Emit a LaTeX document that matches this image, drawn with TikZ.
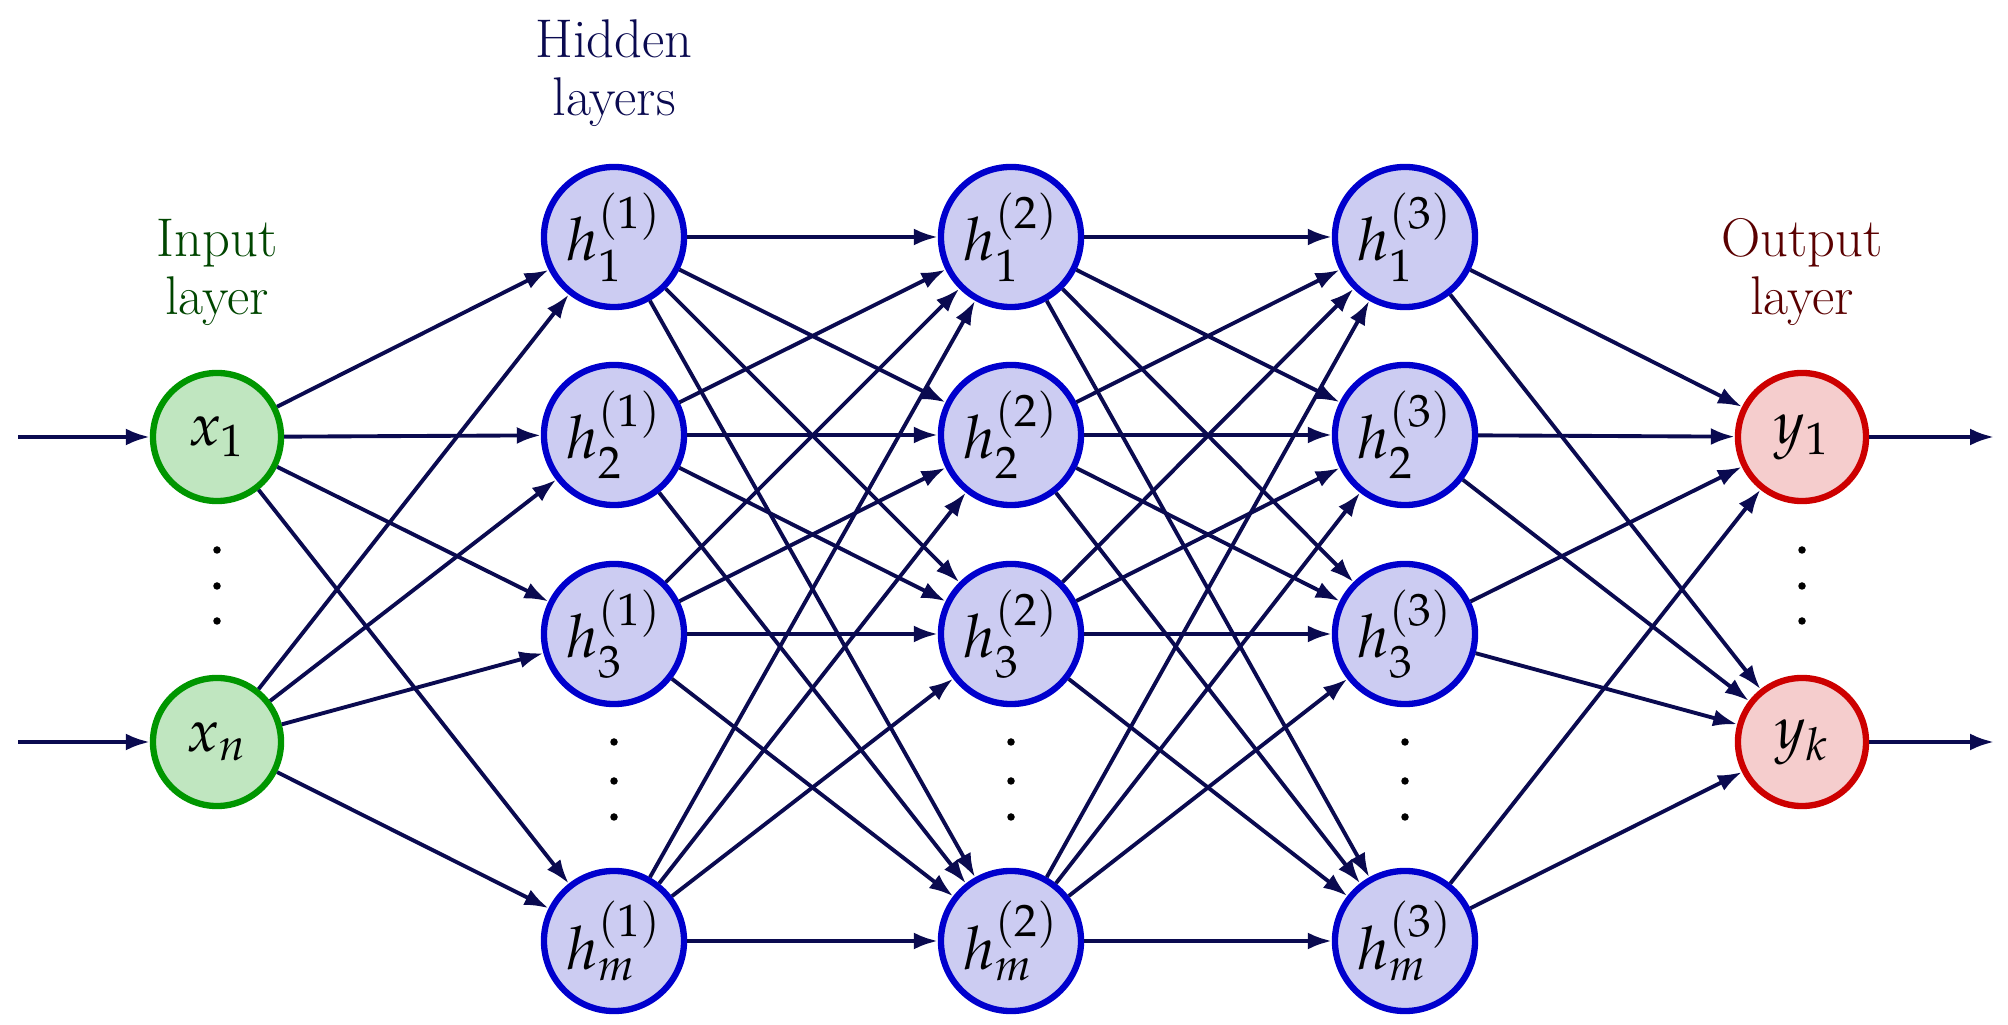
\documentclass[tikz,border=0pt]{standalone}
\usepackage{mathpazo}
\usetikzlibrary{arrows.meta}
\definecolor{arr}{RGB}{10,10,80}
\definecolor{ing}{RGB}{0,150,0}\definecolor{inf}{RGB}{192,230,192}
\definecolor{hdb}{RGB}{0,0,205}\definecolor{hdf}{RGB}{204,204,242}
\definecolor{otr}{RGB}{205,0,0}\definecolor{otf}{RGB}{245,205,205}
\definecolor{tgreen}{RGB}{0,70,0}\definecolor{tred}{RGB}{90,0,0}
\begin{document}
\begin{tikzpicture}[x=0.01cm,y=-0.01cm,
  font=\fontsize{15.5}{16.5}\selectfont,
  neu/.style={circle,line width=1.8pt,inner sep=0pt,font=\fontsize{17}{18}\selectfont},
  inn/.style={neu,draw=ing,fill=inf,minimum size=1.28cm},
  hid/.style={neu,draw=hdb,fill=hdf,minimum size=1.40cm},
  outn/.style={neu,draw=otr,fill=otf,minimum size=1.28cm},
  con/.style={draw=arr,line width=1.1pt,-{Latex[length=0.24cm,width=0.17cm]}},
  dot/.style={circle,fill=black,inner sep=0pt,minimum size=0.075cm},
  lab/.style={align=center}]
\useasboundingbox (0,0) rectangle (2008,1025);
\node[inn] (x1) at (217,437) {$x_1$};
\node[inn] (xn) at (217,742) {$x_n$};
\foreach \l/\x in {1/614,2/1011,3/1405}{
  \node[hid] (h\l1) at (\x,237) {$h^{(\l)}_1$};
  \node[hid] (h\l2) at (\x,435) {$h^{(\l)}_2$};
  \node[hid] (h\l3) at (\x,634) {$h^{(\l)}_3$};
  \node[hid] (h\l4) at (\x,941) {$h^{(\l)}_m$};
  \foreach \y [count=\i] in {742,781,817} \node[dot] (hd\l\i) at (\x,\y) {};
}
\node[outn] (y1) at (1802,437) {$y_1$};
\node[outn] (yk) at (1802,742) {$y_k$};
\foreach \x/\n in {217/i,1802/o}{
  \foreach \y [count=\i] in {550,586,621} \node[dot] (d\n\i) at (\x,\y) {};
}
\coordinate (ia) at (18,437); \coordinate (ib) at (18,742);
\coordinate (oa) at (1994,437); \coordinate (ob) at (1994,742);
\draw[con] (ia) -- (x1); \draw[con] (ib) -- (xn);
\draw[con] (y1) -- (oa); \draw[con] (yk) -- (ob);
\foreach \a in {x1,xn}\foreach \j in {1,...,4} \draw[con] (\a) -- (h1\j);
\foreach \i in {1,...,4}\foreach \j in {1,...,4}{
  \draw[con] (h1\i) -- (h2\j);
  \draw[con] (h2\i) -- (h3\j);}
\foreach \i in {1,...,4}\foreach \b in {y1,yk} \draw[con] (h3\i) -- (\b);
\node[lab,text=tgreen] (li) at (217,272) {Input\\layer};
\node[lab,text=arr] (lh) at (614,73) {Hidden\\layers};
\node[lab,text=tred] (lo) at (1802,272) {Output\\layer};
\end{tikzpicture}
\end{document}
